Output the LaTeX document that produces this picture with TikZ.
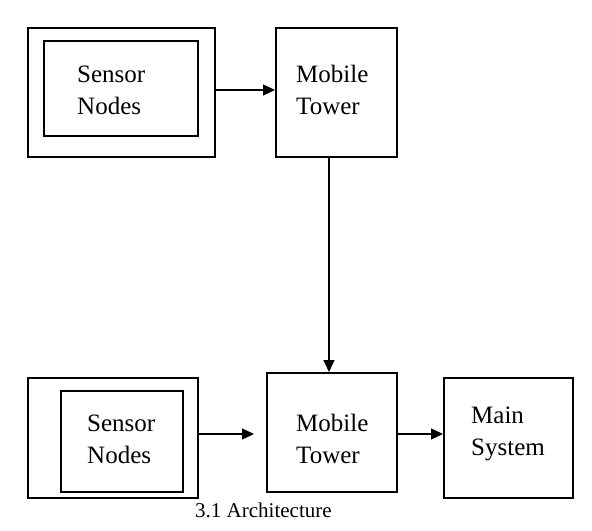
\documentclass[tikz,border=0pt]{standalone}
\usepackage{fontspec}
\setmainfont{Liberation Serif}
\usetikzlibrary{arrows.meta}
\begin{document}
\begin{tikzpicture}[x=1bp,y=-1bp,
  box/.style={draw,line width=2bp,inner sep=0pt},
  lbl/.style={anchor=base west,align=left,inner sep=0pt,font=\fontsize{25bp}{32bp}\selectfont},
  arr/.style={line width=1.3bp,-{Triangle[length=12bp,width=11bp]}}]
\useasboundingbox (0,0) rectangle (592,531);
% boxes
\node[box,minimum width=187bp,minimum height=129bp] (so1) at (121.5,92.5) {};
\node[box,minimum width=154bp,minimum height=95bp] (si1) at (121,88.5) {};
\node[box,minimum width=121bp,minimum height=129bp] (mt1) at (336.5,92.5) {};
\node[box,minimum width=170bp,minimum height=120bp] (so2) at (113,438) {};
\node[box,minimum width=122bp,minimum height=101bp] (si2) at (122,441.5) {};
\node[box,minimum width=130bp,minimum height=119bp] (mt2) at (332,432.5) {};
\node[box,minimum width=129bp,minimum height=120bp] (ms) at (508.5,438) {};
% labels (anchor = baseline of last line)
\node[lbl] (t1) at (77,115) {Sensor\\Nodes};
\node[lbl] (t2) at (296,115) {Mobile\\Tower};
\node[lbl] (t3) at (87,463) {Sensor\\Nodes};
\node[lbl] (t4) at (296,463) {Mobile\\Tower};
\node[lbl] (t5) at (471,455) {Main\\System};
\node[anchor=base west,inner sep=0pt,font=\fontsize{21bp}{24bp}\selectfont] (cap) at (195,517) {3.1 Architecture};
% connectors
\coordinate (free) at (254,434);
\draw[arr] (so1.east |- 0,90) -- (mt1.west |- 0,90);
\draw[arr] (mt1.south -| 329,0) -- (mt2.north -| 329,0);
\draw[arr] (so2.east |- free) -- (free);
\draw[arr] (mt2.east |- 0,434) -- (ms.west |- 0,434);
\end{tikzpicture}
\end{document}
